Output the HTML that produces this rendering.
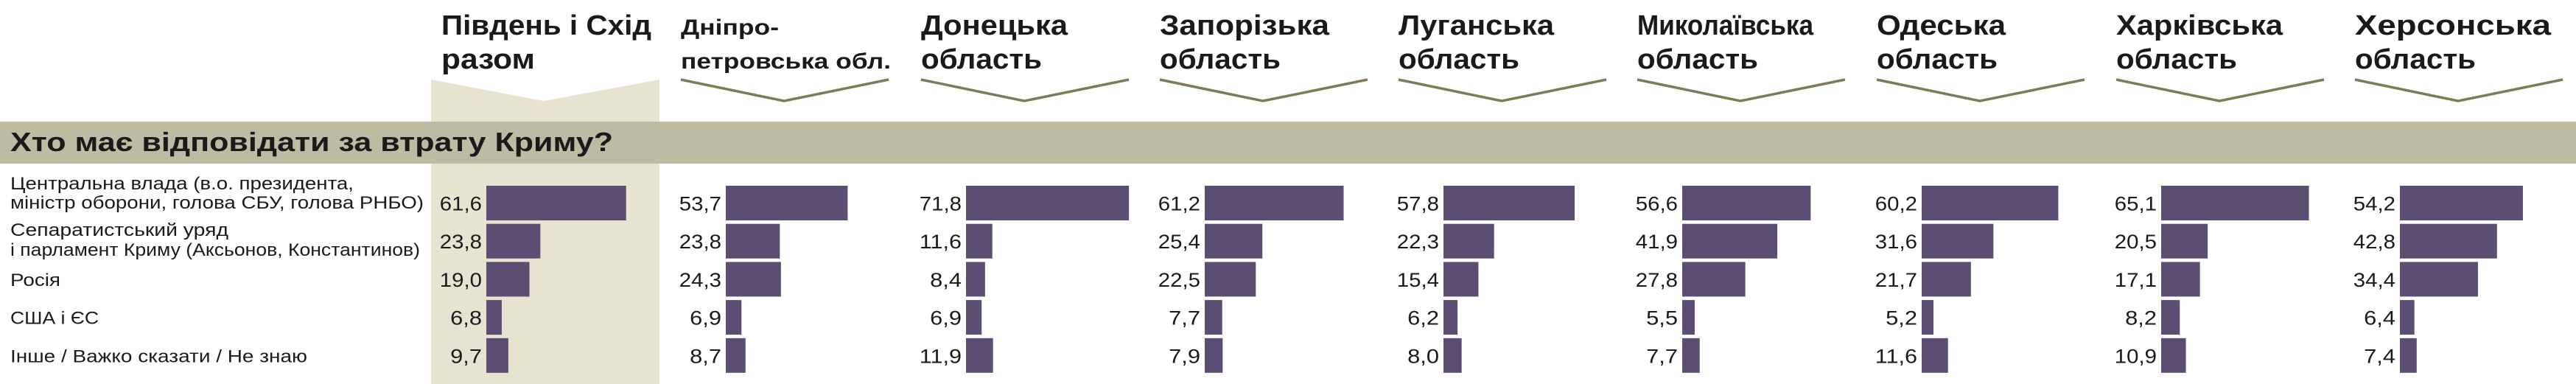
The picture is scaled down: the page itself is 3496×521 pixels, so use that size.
<!DOCTYPE html>
<html><head><meta charset="utf-8"><style>
html,body{margin:0;padding:0;background:#fff;}
svg{display:block;font-family:"Liberation Sans",sans-serif;}
</style></head><body>
<svg id="chart" width="3496" height="521" viewBox="0 0 3496 521" xmlns="http://www.w3.org/2000/svg">
<polygon points="585,108 738,137 895,108 895,521 585,521" fill="#e7e3d1"/>
<rect x="0" y="165" width="3496" height="57" fill="#bdbca3"/>
<text x="14" y="205" font-size="36" font-weight="bold" fill="#1a1a1a" textLength="818" lengthAdjust="spacingAndGlyphs">Хто має відповідати за втрату Криму?</text>
<g id="labels"></g><g id="groups"></g>
</svg>
<script>
const categories = ["Центральна влада (в.о. президента, міністр оборони, голова СБУ, голова РНБО)","Сепаратистський уряд і парламент Криму (Аксьонов, Константинов)","Росія","США і ЄС","Інше / Важко сказати / Не знаю"];
const regions = ["Південь і Схід разом","Дніпропетровська обл.","Донецька область","Запорізька область","Луганська область","Миколаївська область","Одеська область","Харківська область","Херсонська область"];
const valPivden = [61.6,23.8,19.0,6.8,9.7];
const valDnipro = [53.7,23.8,24.3,6.9,8.7];
const valDonetsk = [71.8,11.6,8.4,6.9,11.9];
const valZapor = [61.2,25.4,22.5,7.7,7.9];
const valLuhansk = [57.8,22.3,15.4,6.2,8.0];
const valMykol = [56.6,41.9,27.8,5.5,7.7];
const valOdesa = [60.2,31.6,21.7,5.2,11.6];
const valKharkiv = [65.1,20.5,17.1,8.2,10.9];
const valKherson = [54.2,42.8,34.4,6.4,7.4];
const series = [valPivden,valDnipro,valDonetsk,valZapor,valLuhansk,valMykol,valOdesa,valKharkiv,valKherson];

const NS="http://www.w3.org/2000/svg";
function mk(tag,attrs,parent,txt){const e=document.createElementNS(NS,tag);for(const k in attrs)e.setAttribute(k,attrs[k]);if(txt!==undefined)e.textContent=txt;parent.appendChild(e);return e;}
const barStarts=[660,985,1311,1635,1959,2283,2608,2933,3257];
const scale=3.08;
const xLen=v=>v*scale;
const rowTop=i=>252+i*51.7;
const barH=47;

const headLines=[["Південь і Схід","разом"],["Дніпро-","петровська обл."],["Донецька","область"],["Запорізька","область"],["Луганська","область"],["Миколаївська","область"],["Одеська","область"],["Харківська","область"],["Херсонська","область"]];
const headW={"Південь і Схід":285,"разом":127,"Дніпро-":133,"петровська обл.":285,"Донецька":199,"область":164,"Запорізька":230,"Луганська":211,"Миколаївська":239,"Одеська":175,"Харківська":226,"Херсонська":266};
const G=document.getElementById('groups');
const L=document.getElementById('labels');
const labLines=[["Центральна влада (в.о. президента,","міністр оборони, голова СБУ, голова РНБО)"],["Сепаратистський уряд","і парламент Криму (Аксьонов, Константинов)"],["Росія"],["США і ЄС"],["Інше / Важко сказати / Не знаю"]];
const labW=[[466,561],[296,556],[68],[120],[403]];
labLines.forEach((ls,i)=>{
  let ys;
  if(i===0) ys=[257,283]; else if(i===1) ys=[320,347]; else ys=[rowTop(i)+barH/2+9];
  ls.forEach((t,j)=>{
    const e=mk('text',{x:14,y:ys[j],'font-size':24,fill:'#1a1a1a',textLength:labW[i][j],lengthAdjust:'spacingAndGlyphs'},L,t);
    
    
  });
});
series.forEach((vals,g)=>{
  const bx=barStarts[g];
  const hx=bx-61;
  const hl=headLines[g];
  const small=g===1;
  hl.forEach((t,j)=>{
    const e=mk('text',{x:hx,y:j===0?47:93,'font-size':small?30:38,'font-weight':'bold',fill:'#1a1a1a',textLength:headW[t],lengthAdjust:'spacingAndGlyphs'},G,t);
    
    
  });
  if(g>0){
    const c=mk('polyline',{points:`${hx},108 ${hx+140},137 ${hx+282},108`,fill:'none',stroke:'#7f7a5a','stroke-width':3.5},G);
    
    
  }
  vals.forEach((v,i)=>{
    const y=rowTop(i);
    const r=mk('rect',{x:bx,y:y,width:xLen(v),height:barH,fill:'#5c4d72'},G);
    
    
    const s=v.toFixed(1).replace('.',',');
    const t=mk('text',{x:bx-6,y:y+barH/2+10,'font-size':27,'text-anchor':'end',fill:'#1a1a1a',textLength:s.length*14.3,lengthAdjust:'spacingAndGlyphs'},G,s);
    
    
  });
});
</script>
</body></html>
